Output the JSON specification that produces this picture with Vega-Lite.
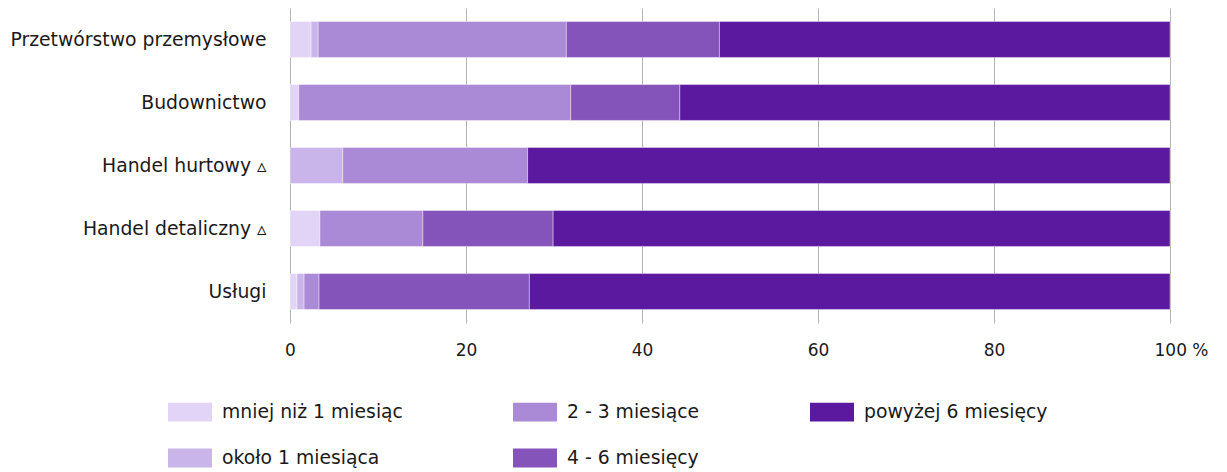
{
  "$schema": "https://vega.github.io/schema/vega-lite/v6.json",
  "width": 880,
  "height": 315,
  "autosize": {"type": "none"},
  "padding": {"left": 290, "top": 8, "right": 57, "bottom": 149},
  "background": "white",
  "config": {
    "view": {"stroke": null},
    "font": "DejaVu Sans",
    "axis": {"labelFont": "DejaVu Sans", "labelColor": "#1a1a1a"},
    "legend": {"labelFont": "DejaVu Sans"}
  },
  "data": {
    "values": [
      {"sekcja": "Przetwórstwo przemysłowe", "okres": "mniej niż 1 miesiąc", "k": 1, "v": 2.4},
      {"sekcja": "Przetwórstwo przemysłowe", "okres": "około 1 miesiąca", "k": 2, "v": 0.8},
      {"sekcja": "Przetwórstwo przemysłowe", "okres": "2 - 3 miesiące", "k": 3, "v": 28.2},
      {"sekcja": "Przetwórstwo przemysłowe", "okres": "4 - 6 miesięcy", "k": 4, "v": 17.4},
      {"sekcja": "Przetwórstwo przemysłowe", "okres": "powyżej 6 miesięcy", "k": 5, "v": 51.2},
      {"sekcja": "Budownictwo", "okres": "mniej niż 1 miesiąc", "k": 1, "v": 1.0},
      {"sekcja": "Budownictwo", "okres": "2 - 3 miesiące", "k": 3, "v": 30.9},
      {"sekcja": "Budownictwo", "okres": "4 - 6 miesięcy", "k": 4, "v": 12.4},
      {"sekcja": "Budownictwo", "okres": "powyżej 6 miesięcy", "k": 5, "v": 55.7},
      {"sekcja": "Handel hurtowy ▵", "okres": "około 1 miesiąca", "k": 2, "v": 6.0},
      {"sekcja": "Handel hurtowy ▵", "okres": "2 - 3 miesiące", "k": 3, "v": 21.0},
      {"sekcja": "Handel hurtowy ▵", "okres": "powyżej 6 miesięcy", "k": 5, "v": 73.0},
      {"sekcja": "Handel detaliczny ▵", "okres": "mniej niż 1 miesiąc", "k": 1, "v": 3.4},
      {"sekcja": "Handel detaliczny ▵", "okres": "2 - 3 miesiące", "k": 3, "v": 11.7},
      {"sekcja": "Handel detaliczny ▵", "okres": "4 - 6 miesięcy", "k": 4, "v": 14.8},
      {"sekcja": "Handel detaliczny ▵", "okres": "powyżej 6 miesięcy", "k": 5, "v": 70.1},
      {"sekcja": "Usługi", "okres": "mniej niż 1 miesiąc", "k": 1, "v": 0.8},
      {"sekcja": "Usługi", "okres": "około 1 miesiąca", "k": 2, "v": 0.8},
      {"sekcja": "Usługi", "okres": "2 - 3 miesiące", "k": 3, "v": 1.7},
      {"sekcja": "Usługi", "okres": "4 - 6 miesięcy", "k": 4, "v": 23.9},
      {"sekcja": "Usługi", "okres": "powyżej 6 miesięcy", "k": 5, "v": 72.8}
    ]
  },
  "mark": {"type": "bar", "stroke": "white", "strokeWidth": 0.4},
  "encoding": {
    "y": {
      "field": "sekcja",
      "type": "nominal",
      "sort": ["Przetwórstwo przemysłowe", "Budownictwo", "Handel hurtowy ▵", "Handel detaliczny ▵", "Usługi"],
      "scale": {"paddingInner": 0.43, "paddingOuter": 0.215},
      "axis": {
        "title": null,
        "domain": false,
        "ticks": false,
        "labelFontSize": 18.8,
        "labelPadding": 24,
        "labelLimit": 400
      }
    },
    "x": {
      "field": "v",
      "type": "quantitative",
      "stack": "zero",
      "scale": {"domain": [0, 100], "nice": false},
      "axis": {
        "title": null,
        "values": [0, 20, 40, 60, 80, 100],
        "labelExpr": "datum.value == 100 ? '100  %' : datum.label",
        "labelAlign": {"condition": {"test": "datum.value == 100", "value": "left"}, "value": "center"},
        "labelOffset": {"condition": {"test": "datum.value == 100", "value": -16}, "value": 0},
        "domain": false,
        "ticks": false,
        "grid": true,
        "gridColor": "#b3b3b3",
        "gridWidth": 1,
        "labelFontSize": 17,
        "labelPadding": 19
      }
    },
    "order": {"field": "k", "type": "quantitative"},
    "color": {
      "field": "okres",
      "type": "nominal",
      "scale": {
        "domain": ["mniej niż 1 miesiąc", "2 - 3 miesiące", "powyżej 6 miesięcy", "około 1 miesiąca", "4 - 6 miesięcy"],
        "range": ["#e1d4f6", "#aa89d6", "#5b19a0", "#c9b5ea", "#8554bb"]
      },
      "legend": {
        "title": null,
        "orient": "none",
        "legendX": -122,
        "legendY": 382,
        "direction": "horizontal",
        "columns": 3,
        "padding": 0,
        "columnPadding": 110,
        "rowPadding": 14,
        "symbolType": "M-1,-0.43L1,-0.43L1,0.43L-1,0.43Z",
        "symbolSize": 1936,
        "symbolStrokeWidth": 0,
        "symbolOpacity": 1,
        "labelFontSize": 18.8,
        "labelOffset": 10,
        "labelColor": "#1a1a1a",
        "labelLimit": 400
      }
    }
  }
}
